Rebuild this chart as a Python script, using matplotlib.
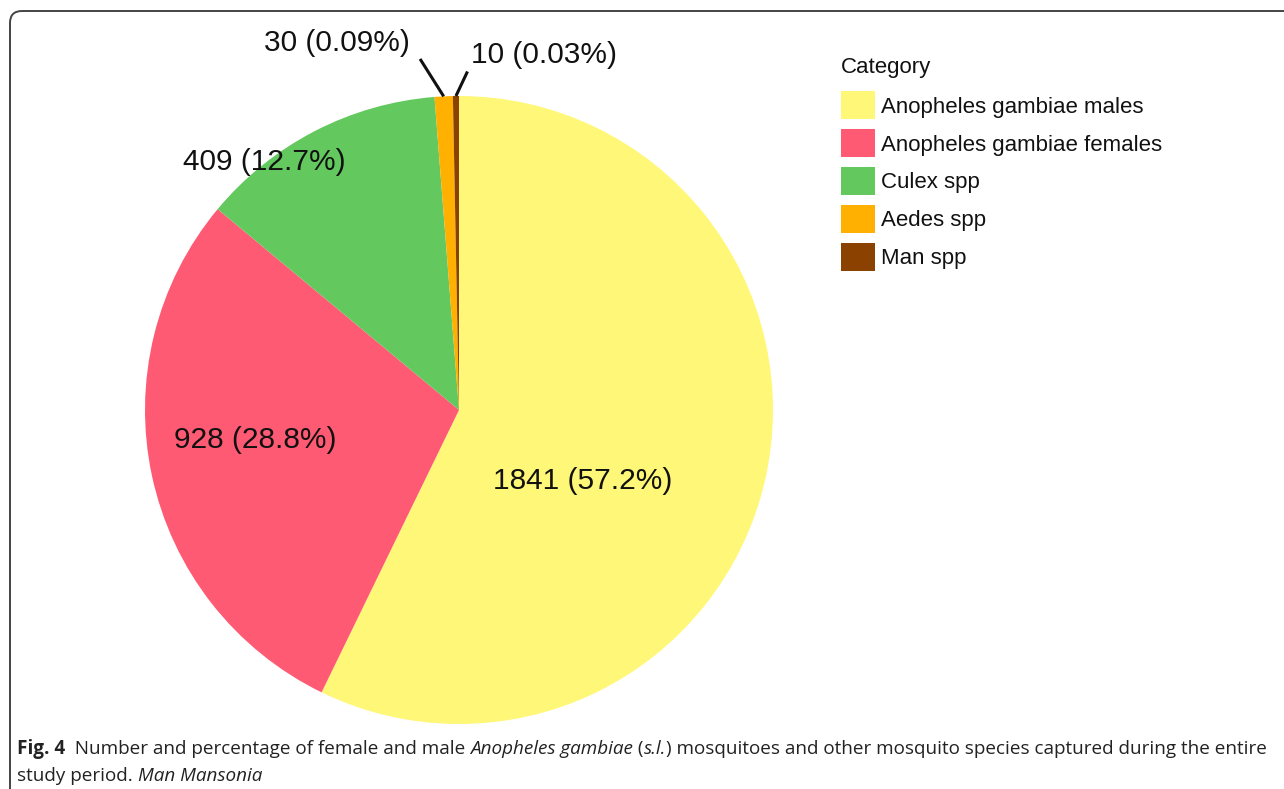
import matplotlib
matplotlib.use("Agg")
import matplotlib.pyplot as plt
from matplotlib.patches import FancyBboxPatch, Patch
import numpy as np

# ---- data ----
categories = ["Anopheles gambiae males", "Anopheles gambiae females",
              "Culex spp", "Aedes spp", "Man spp"]
counts = [1841, 928, 409, 30, 10]
labels = ["1841 (57.2%)", "928 (28.8%)", "409 (12.7%)", "30 (0.09%)", "10 (0.03%)"]
colors = ["#FFF778", "#FF5A73", "#63C95E", "#FFB000", "#8B4200"]
legend_title = "Category"

# ---- layout (positions in pie data units, radius = 1) ----
label_pos = [(0.395, -0.226), (-0.65, -0.096), (-0.621, 0.79),
             (-0.39, 1.17), (0.27, 1.13)]
leader_end = [None, None, None, (-0.124, 1.118), (0.027, 1.078)]

W, H = 1284, 789
fig = plt.figure(figsize=(W / 100, H / 100), dpi=100)

# background axes in pixel units for the frame
bg = fig.add_axes([0, 0, 1, 1], zorder=0)
bg.set_xlim(0, W)
bg.set_ylim(H, 0)
bg.axis("off")
frame = FancyBboxPatch((10, 11), 1400, 900,
                       boxstyle="round,pad=0,rounding_size=12",
                       fc="none", ec="#444444", lw=1.4)
bg.add_patch(frame)

cx, cy, R = 459, 410, 314
ax = fig.add_axes([(cx - R) / W, (H - cy - R) / H, 2 * R / W, 2 * R / H], zorder=1)
ax.set_xlim(-1, 1)
ax.set_ylim(-1, 1)
ax.set_aspect("equal")
ax.axis("off")
wedges, _ = ax.pie(counts, colors=colors, startangle=90, counterclock=False,
                   radius=1, wedgeprops=dict(linewidth=0))
ax.set_xlim(-1, 1)
ax.set_ylim(-1, 1)

total = sum(counts)
cum = 0
for i, (lab, c) in enumerate(zip(labels, counts)):
    mid_cw = (cum + c / 2) / total * 360
    cum += c
    ang = np.deg2rad(90 - mid_cw)
    tx, ty = label_pos[i]
    ax.text(tx, ty, lab, ha="center", va="center", fontsize=21.5,
            family="Liberation Sans", color="#111111", clip_on=False)
    if leader_end[i] is not None:
        ex, ey = leader_end[i]
        ax.plot([np.cos(ang), ex], [np.sin(ang), ey], color="#111111", lw=2.2,
                clip_on=False, solid_capstyle="butt")

leg_fs = 16.0
handles = [Patch(facecolor=c, edgecolor="none") for c in colors]
leg = fig.legend(handles, categories, loc="upper left",
                 bbox_to_anchor=(841 / W, 1 - 91.5 / H), bbox_transform=fig.transFigure,
                 frameon=False, borderpad=0, prop=dict(family="Liberation Sans", size=leg_fs),
                 handlelength=1.53, handleheight=1.55, handletextpad=0.27,
                 labelspacing=0.45, borderaxespad=0)
for t in leg.get_texts():
    t.set_color("#111111")
bg.text(841, 67, legend_title, fontsize=leg_fs, family="Liberation Sans",
        color="#111111", ha="left", va="center")

# caption with mixed styles
fig.canvas.draw()
renderer = fig.canvas.get_renderer()
cap_font = "Open Sans"
cap_size = 13.55
line1 = [("Fig. 4", "bold", "normal"), ("  Number and percentage of female and male ", "normal", "normal"),
         ("Anopheles gambiae", "normal", "italic"), (" (", "normal", "normal"),
         ("s.l.", "normal", "italic"),
         (") mosquitoes and other mosquito species captured during the entire", "normal", "normal")]
line2 = [("study period. ", "normal", "normal"), ("Man Mansonia", "normal", "italic")]


def draw_line(parts, x0, y0):
    x = x0
    for txt, w, st in parts:
        t = bg.text(x, y0, txt, fontsize=cap_size, family=cap_font, weight=w, style=st,
                    ha="left", va="baseline", color="#222222")
        bb = t.get_window_extent(renderer=renderer)
        x += bb.width


draw_line(line1, 17, 754)
draw_line(line2, 17, 781)

fig.savefig("out.png", dpi=100)
